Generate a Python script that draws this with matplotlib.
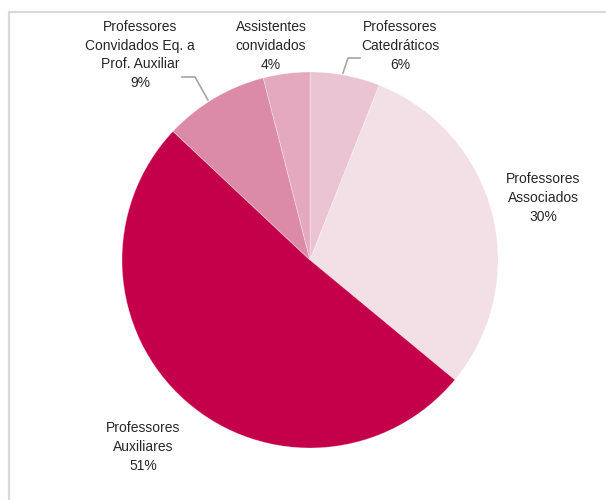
import matplotlib.pyplot as plt
from matplotlib.patches import Rectangle

categorias = ['Professores\nCatedráticos', 'Professores\nAssociados', 'Professores\nAuxiliares',
              'Professores\nConvidados Eq. a\nProf. Auxiliar', 'Assistentes\nconvidados']
percentagens = [6, 30, 51, 9, 4]
cores = ['#EBC4D3', '#F3DFE6', '#C4004B', '#DB8BA8', '#E4A9BF']

# label centres in pixel coords (y measured from top)
label_pos = [(400, 46), (543, 198), (143, 447), (140, 55), (271, 46)]

plt.rcParams['font.family'] = ['Liberation Sans Narrow', 'Liberation Sans', 'DejaVu Sans']

W, H = 606, 500
fig = plt.figure(figsize=(W / 100, H / 100), dpi=100)
ax = fig.add_axes([0, 0, 1, 1])

# light frame, cut off at right and bottom
ax.add_patch(Rectangle((8.5, -20), 700, H - 11.5 + 20, fill=False, edgecolor='#D9D9D9', lw=1.6))

ax.pie(percentagens, colors=cores, startangle=90, counterclock=False,
       center=(310, H - 260), radius=188, frame=True,
       wedgeprops=dict(linewidth=0.6, edgecolor=(1, 1, 1, 0.35)))
ax.set_xlim(0, W)
ax.set_ylim(0, H)
ax.set_aspect('equal')
ax.axis('off')

for cat, pct, (x, y) in zip(categorias, percentagens, label_pos):
    ax.text(x, H - y, f'{cat}\n{pct}%', ha='center', va='center', fontsize=10,
            color='#262626', linespacing=1.45)

# leader lines
ax.plot([182, 195, 208], [H - 77, H - 77, H - 100], color='#A6A6A6', lw=1.2)
ax.plot([360, 348, 343], [H - 58, H - 58, H - 73], color='#A6A6A6', lw=1.2)

fig.savefig('out.png', dpi=100)
